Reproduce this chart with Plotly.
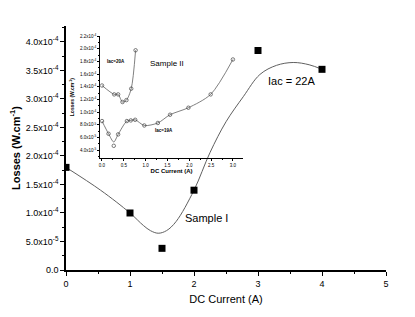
import plotly.graph_objects as go

# Main chart: Sample I, Iac = 22A
dc_current = [0, 1, 1.5, 2, 3, 4]
losses = [1.8e-4, 1.0e-4, 3.8e-5, 1.4e-4, 3.85e-4, 3.52e-4]
fit_x = [0, 0.54, 1.0, 1.21, 1.32, 1.44, 1.57, 1.72, 2.0, 2.25, 2.5, 2.77, 3.03, 3.29, 3.55, 3.8, 4.0]
fit_y = [1.8e-4, 1.40e-4, 1.0e-4, 0.78e-4, 0.69e-4, 0.645e-4, 0.69e-4, 0.85e-4, 1.4e-4, 2.06e-4,
         2.6e-4, 3.04e-4, 3.43e-4, 3.59e-4, 3.64e-4, 3.6e-4, 3.52e-4]

# Inset: Sample II
in20_x = [0, 0.28, 0.37, 0.47, 0.56, 0.67, 0.77]
in20_y = [1.42e-4, 1.28e-4, 1.28e-4, 1.16e-4, 1.19e-4, 1.37e-4, 1.975e-4]
in19_x = [0, 0.15, 0.27, 0.37, 0.57, 0.66, 0.76, 0.97, 1.28, 1.56, 1.98, 2.49, 3.0]
in19_y = [0.86e-4, 0.66e-4, 0.47e-4, 0.65e-4, 0.86e-4, 0.87e-4, 0.88e-4, 0.79e-4,
          0.83e-4, 0.96e-4, 1.07e-4, 1.28e-4, 1.83e-4]
in19_fit_y = [0.86e-4, 0.66e-4, 0.53e-4, 0.65e-4, 0.86e-4, 0.87e-4, 0.88e-4, 0.79e-4,
              0.83e-4, 0.96e-4, 1.07e-4, 1.28e-4, 1.83e-4]

main_yticks = [0, 0.5e-4, 1.0e-4, 1.5e-4, 2.0e-4, 2.5e-4, 3.0e-4, 3.5e-4, 4.0e-4]
main_ylabels = ["0.0", "5.0x10<sup>-5</sup>", "1.0x10<sup>-4</sup>", "1.5x10<sup>-4</sup>",
                "2.0x10<sup>-4</sup>", "2.5x10<sup>-4</sup>", "3.0x10<sup>-4</sup>",
                "3.5x10<sup>-4</sup>", "4.0x10<sup>-4</sup>"]
inset_yticks = [4e-5, 6e-5, 8e-5, 1.0e-4, 1.2e-4, 1.4e-4, 1.6e-4, 1.8e-4, 2.0e-4, 2.2e-4]
inset_ylabels = ["4.0x10<sup>-5</sup>", "6.0x10<sup>-5</sup>", "8.0x10<sup>-5</sup>",
                 "1.0x10<sup>-4</sup>", "1.2x10<sup>-4</sup>", "1.4x10<sup>-4</sup>",
                 "1.6x10<sup>-4</sup>", "1.8x10<sup>-4</sup>", "2.0x10<sup>-4</sup>",
                 "2.2x10<sup>-4</sup>"]
inset_xticks = [0, 0.5, 1.0, 1.5, 2.0, 2.5, 3.0]
inset_xlabels = ["0.0", "0.5", "1.0", "1.5", "2.0", "2.5", "3.0"]

FONT = "Liberation Sans, Arial, sans-serif"
LINE = "#606060"

fig = go.Figure()
fig.add_trace(go.Scatter(x=fit_x, y=fit_y, mode="lines",
                         line=dict(color=LINE, width=1, shape="spline", smoothing=1.0),
                         xaxis="x", yaxis="y", showlegend=False))
fig.add_trace(go.Scatter(x=dc_current, y=losses, mode="markers",
                         marker=dict(symbol="square", size=7, color="black"),
                         xaxis="x", yaxis="y", showlegend=False))
# inset
fig.add_trace(go.Scatter(x=in20_x, y=in20_y, mode="lines+markers",
                         line=dict(color=LINE, width=0.8, shape="spline", smoothing=0.8),
                         marker=dict(symbol="circle-open", size=3.5, color="#444444", line=dict(width=0.7)),
                         xaxis="x2", yaxis="y2", showlegend=False))
fig.add_trace(go.Scatter(x=in19_x, y=in19_fit_y, mode="lines",
                         line=dict(color=LINE, width=0.8, shape="spline", smoothing=0.8),
                         xaxis="x2", yaxis="y2", showlegend=False))
fig.add_trace(go.Scatter(x=in19_x, y=in19_y, mode="markers",
                         marker=dict(symbol="circle-open", size=3.5, color="#444444", line=dict(width=0.7)),
                         xaxis="x2", yaxis="y2", showlegend=False))

fig.update_layout(
    width=407, height=309,
    margin=dict(l=58, r=29, t=18, b=47),
    paper_bgcolor="white", plot_bgcolor="rgba(0,0,0,0)",
    font=dict(family=FONT, color="black", size=9),
    xaxis=dict(range=[0, 5], tickvals=[0, 1, 2, 3, 4, 5], showline=True, linecolor="black",
               linewidth=1.5, ticks="outside", ticklen=4, tickcolor="black", showgrid=False,
               zeroline=False, tickfont=dict(size=9), automargin=False,
               minor=dict(dtick=0.5, ticks="outside", ticklen=2, tickcolor="black", showgrid=False),
               title=dict(text="DC Current (A)", font=dict(size=11), standoff=8)),
    yaxis=dict(range=[0, 4.28e-4], tickvals=main_yticks, ticktext=main_ylabels, showline=True,
               linecolor="black", linewidth=1.5, ticks="outside", ticklen=4, tickcolor="black",
               showgrid=False, zeroline=False, tickfont=dict(size=9), automargin=False,
               minor=dict(dtick=0.25e-4, tick0=0, ticks="outside", ticklen=2, tickcolor="black", showgrid=False),
               title=dict(text="<b>Losses (W.cm<sup>-1</sup>)</b>", font=dict(size=11), standoff=8)),
    xaxis2=dict(domain=[0.107, 0.553], anchor="y2", range=[-0.04, 3.23], tickvals=inset_xticks,
                ticktext=inset_xlabels, showline=True, linecolor="black", linewidth=1,
                ticks="outside", ticklen=2, tickcolor="black", showgrid=False, zeroline=False,
                tickfont=dict(size=4.5), automargin=False,
                minor=dict(dtick=0.25, tick0=0, ticks="outside", ticklen=1, tickcolor="black", showgrid=False),
                title=dict(text="<b>DC Current (A)</b>", font=dict(size=6), standoff=2)),
    yaxis2=dict(domain=[0.458, 0.959], anchor="x2", range=[2.74e-5, 2.2e-4], tickvals=inset_yticks,
                ticktext=inset_ylabels, showline=True, linecolor="black", linewidth=1,
                ticks="outside", ticklen=2, tickcolor="black", showgrid=False, zeroline=False,
                tickfont=dict(size=4.5), automargin=False,
                minor=dict(dtick=1e-5, tick0=0, ticks="outside", ticklen=1, tickcolor="black", showgrid=False),
                title=dict(text="<b>Losses (W.cm<sup>-1</sup>)</b>", font=dict(size=5), standoff=5)),
    annotations=[
        dict(text="Iac = 22A", x=3.52, y=3.32e-4, xref="x", yref="y", showarrow=False,
             font=dict(size=11)),
        dict(text="Sample I", x=2.19, y=0.92e-4, xref="x", yref="y", showarrow=False,
             font=dict(size=11)),
        dict(text="Sample II", x=1.48, y=1.76e-4, xref="x2", yref="y2", showarrow=False,
             font=dict(size=8)),
        dict(text="<b>Iac=20A</b>", x=0.33, y=1.8e-4, xref="x2", yref="y2", showarrow=False,
             font=dict(size=4.5)),
        dict(text="<b>Iac=19A</b>", x=1.43, y=0.71e-4, xref="x2", yref="y2", showarrow=False,
             font=dict(size=4.5)),
    ],
)

fig.write_html("out.html")
